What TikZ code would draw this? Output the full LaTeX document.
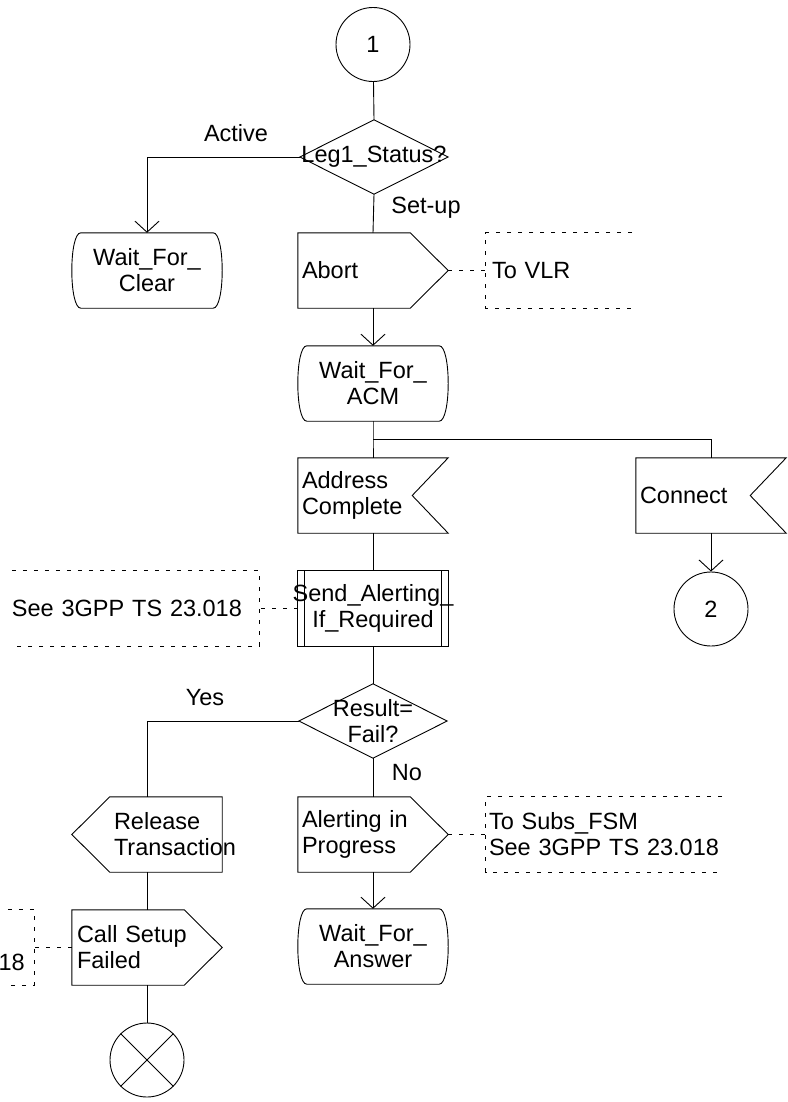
\documentclass[tikz,border=0pt]{standalone}
\usepackage{fontspec}
\setmainfont{Liberation Sans}
\usepackage{tikz}
\usetikzlibrary{arrows.meta,calc}
\hyphenpenalty=10000
\newcommand{\SdlFont}{\fontsize{23.5pt}{26pt}\selectfont}
\tikzset{
  symline/.style={line width=0.9pt},
  flow/.style={line width=0.9pt},
  flowArrow/.style={flow, -{Straight Barb[length=11pt,width=24pt]}},
  note/.style={line width=0.8pt, dash pattern=on 4pt off 7pt},  % comment brackets
  box/.style={minimum width=150, minimum height=75, inner sep=0pt},
  lbox/.style={box, text width=142, align=left, inner xsep=4pt},  % text at left edge
  cbox/.style={box, align=center},
  dec/.style={minimum width=148, minimum height=74, inner sep=0pt, align=center},
  conn/.style={circle, draw, line width=0.9pt, minimum size=74, inner sep=0pt},
  notebox/.style={minimum height=75, inner ysep=0pt, align=left}
}
\newcommand{\DrawState}[1]{%
  \draw[symline] ($(#1.north west)+(9,0)$) -- ($(#1.north east)+(-9,0)$)
    .. controls ($(#1.north east)+(3,0)$) and ($(#1.south east)+(3,0)$) .. ($(#1.south east)+(-9,0)$)
    -- ($(#1.south west)+(9,0)$)
    .. controls ($(#1.south west)+(-3,0)$) and ($(#1.north west)+(-3,0)$) .. ($(#1.north west)+(9,0)$);%
}
\newcommand{\DrawOutR}[1]{%
  \draw[symline] (#1.north west) -- ($(#1.north east)+(-38,0)$) -- (#1.east)
    -- ($(#1.south east)+(-38,0)$) -- (#1.south west) -- cycle;%
}
\newcommand{\DrawOutL}[1]{%
  \draw[symline] ($(#1.north west)+(38,0)$) -- (#1.north east) -- (#1.south east)
    -- ($(#1.south west)+(38,0)$) -- (#1.west) -- cycle;%
}
\newcommand{\DrawInput}[1]{%
  \draw[symline] (#1.north west) -- (#1.north east) -- ($(#1.east)+(-36,0)$)
    -- (#1.south east) -- (#1.south west) -- cycle;%
}
\newcommand{\DrawProc}[1]{%
  \draw[symline] (#1.north west) rectangle (#1.south east);
  \draw[symline] ($(#1.north west)+(7,0)$) -- ($(#1.south west)+(7,0)$)
    ($(#1.north east)+(-7,0)$) -- ($(#1.south east)+(-7,0)$);%
}
\newcommand{\DrawDecision}[1]{%
  \draw[symline] (#1.north) -- (#1.east) -- (#1.south) -- (#1.west) -- cycle;%
}
\newcommand{\DrawNoteR}[1]{%
  \draw[note] (#1.north east) -- (#1.north west) -- (#1.south west) -- (#1.south east);%
}
\newcommand{\DrawNoteL}[1]{%
  \draw[note] (#1.north west) -- (#1.north east) -- (#1.south east) -- (#1.south west);%
}
\begin{document}
\begin{tikzpicture}[x=1pt, y=-1pt, every node/.style={font=\SdlFont}]
  \useasboundingbox (0,0) rectangle (787,1102);
  % symbols
  \node[conn] (start) at (373,44.5) {1};
  \node[dec] (leg) at (374,157) {Leg1\_Status?};
  \node[cbox] (clear) at (147,270.5) {Wait\_For\_\\Clear};
  \node[lbox] (abort) at (373,270.5) {Abort};
  \node[cbox] (acm) at (373,383.5) {Wait\_For\_\\ACM};
  \coordinate (split) at (373,439);
  \node[lbox] (addr) at (373,495.5) {Address\\Complete};
  \node[lbox] (connect) at (711,495.5) {Connect};
  \node[box] (alertproc) at (373,608.5) {};
  \node[align=center, inner sep=0pt] (alertproctxt) at (alertproc.center) {Send\_Alerting\_\\If\_Required};
  \node[conn] (goto) at (711,609) {2};
  \node[dec] (result) at (373,721) {Result=\\Fail?};
  \node[box, text width=66, align=left, inner xsep=42pt] (release) at (147,834.5) {Release\\Transaction};
  \node[lbox] (alert) at (373,834.5) {Alerting in\\Progress};
  \node[box, text width=140, align=left, inner xsep=5pt] (setupfail) at (147,947.5) {Call Setup\\Failed};
  \node[cbox] (answer) at (373,946.5) {Wait\_For\_\\Answer};
  \node[conn] (stop) at (147,1060) {};
  % branch labels
  \node (lblactive) at (236,133) {Active};
  \node (lblsetup) at (426,208) {Set-up};
  \node (lblyes) at (205,698) {Yes};
  \node (lblno) at (407,773) {No};
  % comments
  \node[notebox, text width=134, inner xsep=6pt] (vlrnote) at (559,270.5) {To VLR};
  \node[notebox, text width=247, inner xsep=0pt] (seenote) at (135.5,608.5) {See 3GPP TS 23.018};
  \node[notebox, text width=230, inner xsep=3pt] (subsnote) at (604,834.5) {To Subs\_FSM\\See 3GPP TS 23.018};
  \node[notebox, minimum width=26, inner sep=0pt] (failnote) at (21,947.5) {};
  \node[anchor=base east, inner sep=0pt] (failnotetxt) at (25,970) {18};
  % outlines
  \DrawDecision{leg}
  \DrawDecision{result}
  \DrawState{clear}
  \DrawState{acm}
  \DrawState{answer}
  \DrawOutR{abort}
  \DrawOutR{alert}
  \DrawOutR{setupfail}
  \DrawOutL{release}
  \DrawInput{addr}
  \DrawInput{connect}
  \DrawProc{alertproc}
  \DrawNoteR{vlrnote}
  \DrawNoteR{subsnote}
  \DrawNoteL{seenote}
  \DrawNoteL{failnote}
  \draw[symline] (stop.north west) -- (stop.south east) (stop.north east) -- (stop.south west);
  % flow lines
  \draw[flow] (start) -- (leg.north);
  \draw[flowArrow] (leg.west) -| (clear.north);
  \draw[flow] (leg.south) -- (abort.north);
  \draw[flowArrow] (abort.south) -- (acm.north);
  \draw[flow] (acm.south) -- (split) -- (addr.north);
  \draw[flow] (split) -| (connect.north);
  \draw[flowArrow] (connect.south) -- (goto);
  \draw[flow] (addr.south) -- (alertproc.north);
  \draw[flow] (alertproc.south) -- (result.north);
  \draw[flow] (result.west) -| (release.north);
  \draw[flow] (result.south) -- (alert.north);
  \draw[flowArrow] (alert.south) -- (answer.north);
  \draw[flow] (release.south) -- (setupfail.north);
  \draw[flow] (setupfail.south) -- (stop);
  % comment links
  \draw[note] (abort.east) -- (vlrnote.west);
  \draw[note] (alertproc.west) -- (seenote.east);
  \draw[note] (alert.east) -- (subsnote.west);
  \draw[note] (setupfail.west) -- (failnote.east);
\end{tikzpicture}
\end{document}
